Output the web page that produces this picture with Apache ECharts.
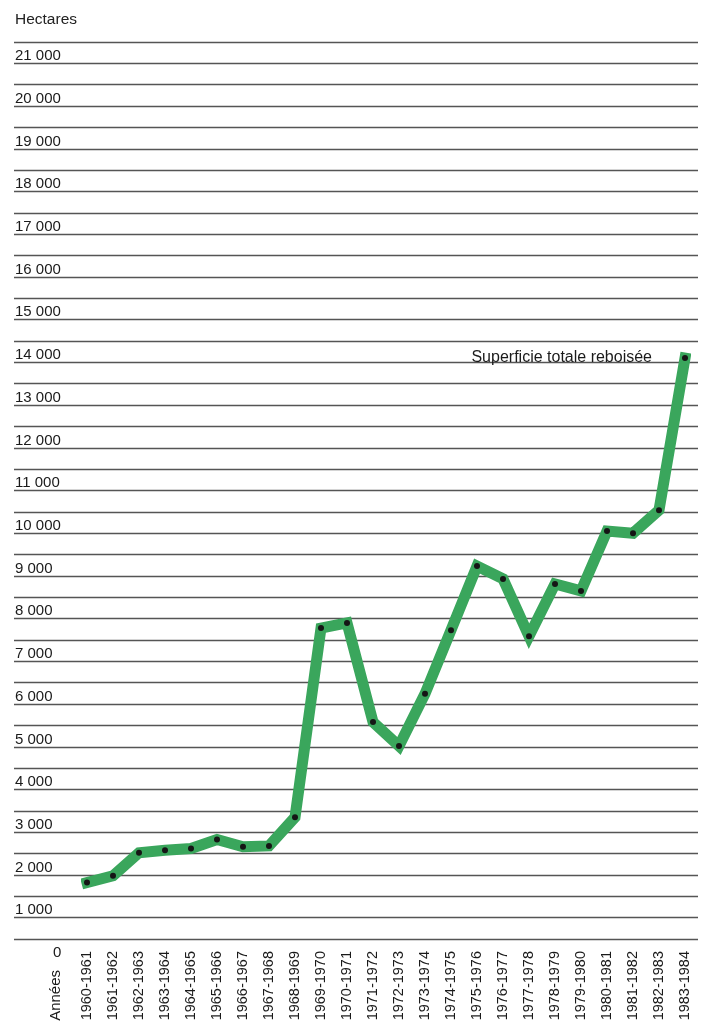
<!DOCTYPE html>
<html>
<head>
<meta charset="utf-8">
<script src="https://cdn.jsdelivr.net/npm/echarts@6/dist/echarts.min.js"></script>
<style>
html,body{margin:0;padding:0;background:#fff;}
#c{width:710px;height:1027px;}
</style>
</head>
<body>
<div id="c"></div>
<script>
var categories = ['1960-1961','1961-1962','1962-1963','1963-1964','1964-1965','1965-1966','1966-1967','1967-1968','1968-1969','1969-1970','1970-1971','1971-1972','1972-1973','1973-1974','1974-1975','1975-1976','1976-1977','1977-1978','1978-1979','1979-1980','1980-1981','1981-1982','1982-1983','1983-1984'];
var hectares = [1320,1480,2020,2080,2120,2330,2160,2180,2850,7280,7400,5080,4520,5740,7230,8730,8430,7090,8310,8150,9550,9500,10040,13600];
var seriesName = 'Superficie totale reboisée';
var yMin = 0, yMax = 21000, yStep = 500;

var FONT = '"Liberation Sans", Arial, Helvetica, sans-serif';
function fmt(v){ return String(v).replace(/\B(?=(\d{3})+(?!\d))/g, ' '); }

var data = hectares.map(function(v, i){
  if (i === hectares.length - 1) {
    return {value: v, label: {show: true, position: 'left', distance: 30, formatter: seriesName,
      fontFamily: FONT, fontSize: 16, color: '#1a1a1a'}};
  }
  return v;
});

var chart = echarts.init(document.getElementById('c'), null, {renderer: 'canvas'});
chart.setOption({
  animation: false,
  backgroundColor: '#fff',
  title: {text: 'Hectares', left: 15, top: 12, padding: 0,
    textStyle: {fontFamily: FONT, fontSize: 15.5, fontWeight: 'normal', color: '#222'}},
  grid: [
    {left: 14, right: 12, top: 42, bottom: 88},
    {left: 87, right: 25, top: 42, bottom: 88}
  ],
  xAxis: [
    {gridIndex: 0, type: 'category', data: categories, show: false},
    {gridIndex: 1, type: 'category', data: categories, boundaryGap: false,
      axisLine: {show: false}, axisTick: {show: false},
      axisLabel: {rotate: 90, margin: 12, interval: 0, fontFamily: FONT, fontSize: 14.5, color: '#1a1a1a'}}
  ],
  yAxis: [
    {gridIndex: 0, type: 'value', min: yMin, max: yMax, interval: yStep,
      axisLine: {show: false}, axisTick: {show: false},
      splitLine: {show: true, lineStyle: {color: '#555', width: 1.3}},
      axisLabel: {inside: true, margin: 1, verticalAlign: 'top', lineHeight: 28,
        fontFamily: FONT, fontSize: 15, color: '#1a1a1a',
        formatter: function(v){ return (v > 0 && v % 1000 === 0) ? fmt(v) : ''; }}},
    {gridIndex: 1, type: 'value', min: yMin, max: yMax, interval: yStep, show: false}
  ],
  series: [{
    type: 'line', name: seriesName, xAxisIndex: 1, yAxisIndex: 1,
    data: data,
    symbol: 'circle', symbolSize: 6,
    itemStyle: {color: '#151515'},
    lineStyle: {color: '#3aa65c', width: 11, cap: 'square', join: 'miter'},
    z: 3
  }],
  graphic: [
    {type: 'text', left: 53, top: 945, style: {text: '0', font: '15px ' + FONT, fill: '#1a1a1a'}},
    {type: 'text', x: 56, y: 970, rotation: Math.PI / 2,
      style: {text: 'Années', font: '15px ' + FONT, fill: '#1a1a1a', textAlign: 'right', textVerticalAlign: 'middle'}}
  ]
});
</script>
</body>
</html>
